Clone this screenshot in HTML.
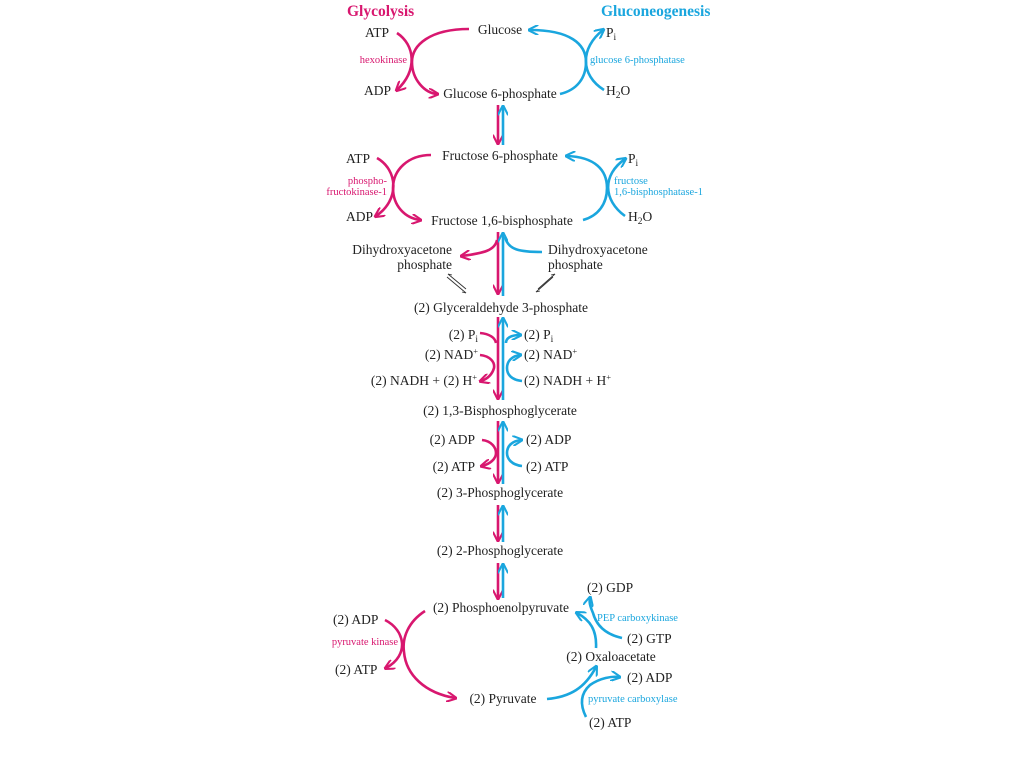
<!DOCTYPE html>
<html><head><meta charset="utf-8"><style>
html,body{margin:0;padding:0;background:#fff;}
svg{display:block;}
text{font-family:"Liberation Serif",serif;font-size:13.5px;fill:#222;}
.m{fill:#d8176f;} .c{fill:#1aa6de;}
.s{font-size:10.5px;}
.b{font-weight:bold;font-size:15.5px;}
.e{text-anchor:end;} .mid{text-anchor:middle;}
.pm{stroke:#d8176f;stroke-width:2.6;fill:none;}
.pc{stroke:#1aa6de;stroke-width:2.6;fill:none;}
.k{stroke:#333;stroke-width:0.9;fill:none;}
</style></head><body>
<svg width="1024" height="767" viewBox="0 0 1024 767" xmlns="http://www.w3.org/2000/svg">
<defs>
<marker id="am" viewBox="0 0 10 10" refX="8" refY="5" markerWidth="4" markerHeight="4" orient="auto"><path d="M0,0 L10,5 L0,10" fill="none" stroke="#d8176f" stroke-width="2"/></marker>
<marker id="ac" viewBox="0 0 10 10" refX="8" refY="5" markerWidth="4" markerHeight="4" orient="auto"><path d="M0,0 L10,5 L0,10" fill="none" stroke="#1aa6de" stroke-width="2"/></marker>
</defs>

<text x="347" y="16" class="b m">Glycolysis</text>
<text x="601" y="16" class="b c">Gluconeogenesis</text>

<!-- top cycle -->
<text x="500" y="34" class="mid">Glucose</text>
<text x="500" y="98" class="mid">Glucose 6-phosphate</text>
<text x="365" y="37">ATP</text>
<text x="364" y="95">ADP</text>
<text x="407" y="63" class="s m e">hexokinase</text>
<text x="606" y="37">P<tspan font-size="9.5" dy="3">i</tspan></text>
<text x="606" y="95">H<tspan font-size="9.5" dy="3">2</tspan><tspan dy="-3">O</tspan></text>
<text x="590" y="63" class="s c">glucose 6-phosphatase</text>
<path class="pm" d="M469,29 C430,29 412,45 412,62 C412,80 425,93 437,94" marker-end="url(#am)"/>
<path class="pm" d="M397,33 C415,45 418,70 397,90" marker-end="url(#am)"/>
<path class="pc" d="M560,94 C577,90 586,78 586,62 C586,44 570,30 530,30" marker-end="url(#ac)"/>
<path class="pc" d="M604,90 C580,75 580,48 603,30" marker-end="url(#ac)"/>

<!-- F6P cycle -->
<text x="500" y="160" class="mid">Fructose 6-phosphate</text>
<text x="502" y="225" class="mid">Fructose 1,6-bisphosphate</text>
<text x="346" y="163">ATP</text>
<text x="346" y="221">ADP</text>
<text x="387" y="184" class="s m e">phospho-</text>
<text x="387" y="195" class="s m e">fructokinase-1</text>
<text x="628" y="163">P<tspan font-size="9.5" dy="3">i</tspan></text>
<text x="628" y="221">H<tspan font-size="9.5" dy="3">2</tspan><tspan dy="-3">O</tspan></text>
<text x="614" y="184" class="s c">fructose</text>
<text x="614" y="195" class="s c">1,6-bisphosphatase-1</text>
<path class="pm" d="M431,155 C408,155 393,170 393,188 C393,206 405,218 420,220" marker-end="url(#am)"/>
<path class="pm" d="M377,158 C398,170 400,200 376,216" marker-end="url(#am)"/>
<path class="pc" d="M583,220 C598,216 607,204 607,188 C607,170 595,157 567,156" marker-end="url(#ac)"/>
<path class="pc" d="M625,216 C603,200 602,175 625,159" marker-end="url(#ac)"/>

<!-- DHAP -->
<text x="452" y="254" class="e">Dihydroxyacetone</text>
<text x="452" y="269" class="e">phosphate</text>
<text x="548" y="254">Dihydroxyacetone</text>
<text x="548" y="269">phosphate</text>
<path class="pm" d="M497,240 C495,250 485,253 462,256" marker-end="url(#am)"/>
<path class="pc" d="M505,237 C508,250 520,252 542,252"/>
<path class="k" d="M447,277 L466,293 L462,292"/>
<path class="k" d="M466,289 L448,274 L452,275"/>
<path class="k" d="M553,277 L536,292 L540,291"/>
<path class="k" d="M538,289 L555,274 L551,275"/>

<text x="501" y="312" class="mid">(2) Glyceraldehyde 3-phosphate</text>

<!-- GAP -> 1,3BPG -->
<text x="478" y="339" class="e">(2) P<tspan font-size="9.5" dy="3">i</tspan></text>
<text x="524" y="339">(2) P<tspan font-size="9.5" dy="3">i</tspan></text>
<text x="478" y="359" class="e">(2) NAD<tspan font-size="8.5" dy="-5">+</tspan></text>
<text x="524" y="359">(2) NAD<tspan font-size="8.5" dy="-5">+</tspan></text>
<text x="477" y="385" class="e">(2) NADH + (2) H<tspan font-size="8.5" dy="-5">+</tspan></text>
<text x="524" y="385">(2) NADH + H<tspan font-size="8.5" dy="-5">+</tspan></text>
<path class="pm" d="M480,333 C490,334 495,338 496,343"/>
<path class="pm" d="M480,355 C490,356 495,362 494,368 C492,375 487,379 481,381" marker-end="url(#am)"/>
<path class="pc" d="M506,343 C506,338 511,335 520,335" marker-end="url(#ac)"/>
<path class="pc" d="M522,381 C512,380 507,375 507,368 C507,361 512,356 520,355" marker-end="url(#ac)"/>

<text x="500" y="415" class="mid">(2) 1,3-Bisphosphoglycerate</text>

<text x="475" y="444" class="e">(2) ADP</text>
<text x="526" y="444">(2) ADP</text>
<text x="475" y="471" class="e">(2) ATP</text>
<text x="526" y="471">(2) ATP</text>
<path class="pm" d="M482,440 C492,441 496,448 496,453 C496,459 490,464 482,466" marker-end="url(#am)"/>
<path class="pc" d="M522,466 C512,465 507,459 507,453 C507,446 512,441 521,440" marker-end="url(#ac)"/>

<text x="500" y="497" class="mid">(2) 3-Phosphoglycerate</text>
<text x="500" y="555" class="mid">(2) 2-Phosphoglycerate</text>
<text x="501" y="612" class="mid">(2) Phosphoenolpyruvate</text>

<!-- central double lines -->
<g>
<path class="pm" d="M498,105 V143" marker-end="url(#am)" stroke-width="2.4"/>
<path class="pc" d="M503,145 V107" marker-end="url(#ac)" stroke-width="2.4"/>
<path class="pm" d="M498,232 V293" marker-end="url(#am)" stroke-width="2.4"/>
<path class="pc" d="M503,296 V234" marker-end="url(#ac)" stroke-width="2.4"/>
<path class="pm" d="M498,317 V398" marker-end="url(#am)" stroke-width="2.4"/>
<path class="pc" d="M503,400 V319" marker-end="url(#ac)" stroke-width="2.4"/>
<path class="pm" d="M498,421 V482" marker-end="url(#am)" stroke-width="2.4"/>
<path class="pc" d="M503,484 V423" marker-end="url(#ac)" stroke-width="2.4"/>
<path class="pm" d="M498,505 V540" marker-end="url(#am)" stroke-width="2.4"/>
<path class="pc" d="M503,542 V507" marker-end="url(#ac)" stroke-width="2.4"/>
<path class="pm" d="M498,563 V598" marker-end="url(#am)" stroke-width="2.4"/>
<path class="pc" d="M503,598 V565" marker-end="url(#ac)" stroke-width="2.4"/>
</g>

<!-- pyruvate kinase -->
<text x="333" y="624">(2) ADP</text>
<text x="335" y="674">(2) ATP</text>
<text x="398" y="645" class="s m e">pyruvate kinase</text>
<text x="503" y="703" class="mid">(2) Pyruvate</text>
<path class="pm" d="M425,611 C408,622 402,638 404,652 C406,675 425,693 455,698" marker-end="url(#am)"/>
<path class="pm" d="M385,620 C405,630 410,655 386,668" marker-end="url(#am)"/>

<!-- right bottom -->
<text x="587" y="592">(2) GDP</text>
<text x="597" y="621" class="s c">PEP carboxykinase</text>
<text x="627" y="643">(2) GTP</text>
<text x="611" y="661" class="mid">(2) Oxaloacetate</text>
<text x="627" y="682">(2) ADP</text>
<text x="588" y="702" class="s c">pyruvate carboxylase</text>
<text x="589" y="727">(2) ATP</text>
<path class="pc" d="M596,648 C597,630 590,620 577,613" marker-end="url(#ac)"/>
<path class="pc" d="M622,638 C604,634 596,624 593,613 C590,606 589,602 590,598" marker-end="url(#ac)"/>
<path class="pc" d="M547,699 C570,697 585,688 596,667" marker-end="url(#ac)"/>
<path class="pc" d="M586,717 C580,705 580,694 590,685 C600,678 612,676 619,677" marker-end="url(#ac)"/>
</svg>
</body></html>
